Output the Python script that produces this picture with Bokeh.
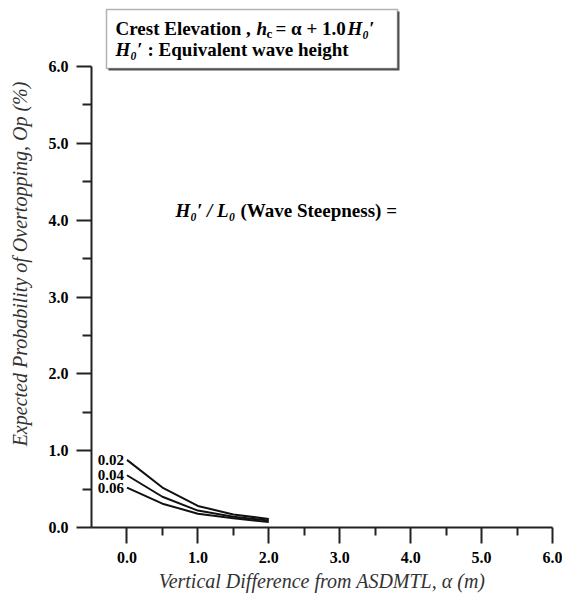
from bokeh.plotting import figure
from bokeh.models import Range1d, FixedTicker, PrintfTickFormatter, Label, BoxAnnotation
from bokeh.embed import file_html
from bokeh.resources import INLINE

# ---- data ----
alpha = [0.0, 0.5, 1.0, 1.5, 2.0]
op_002 = [0.88, 0.52, 0.28, 0.17, 0.11]
op_004 = [0.68, 0.40, 0.22, 0.14, 0.09]
op_006 = [0.52, 0.31, 0.18, 0.12, 0.07]
steepness_labels = ["0.02", "0.04", "0.06"]
x_ticks = [0, 1, 2, 3, 4, 5, 6]
y_ticks = [0, 1, 2, 3, 4, 5, 6]

W, H = 562, 597
FL, FR, FT, FB = 91, 552, 0, 527
X0, X1 = -0.5, 6.0
UNIT_Y = (FB - 66) / 6.0
Y1 = (FB - FT) / UNIT_Y

def px2x(px):
    return X0 + (px - FL) * (X1 - X0) / (FR - FL)

def px2y(py):
    return (FB - py) / UNIT_Y

SERIF = "Liberation Serif"
INK = "#222222"

p = figure(width=W, height=H, output_backend="svg", toolbar_location=None,
           x_range=Range1d(X0, X1), y_range=Range1d(0, Y1),
           min_border_left=FL, min_border_right=W - FR,
           min_border_top=FT, min_border_bottom=H - FB)
p.outline_line_color = None
p.xgrid.visible = False
p.ygrid.visible = False
p.background_fill_color = "white"
p.border_fill_color = "white"

# axes
for ax in (p.xaxis[0], p.yaxis[0]):
    ax.axis_line_color = INK
    ax.axis_line_width = 2
    ax.major_tick_line_color = INK
    ax.major_tick_line_width = 2
    ax.minor_tick_line_color = INK
    ax.minor_tick_line_width = 2
    ax.major_tick_in = 0
    ax.minor_tick_in = 0
    ax.major_label_text_font = SERIF
    ax.major_label_text_font_style = "bold"
    ax.major_label_text_font_size = "16px"
    ax.major_label_text_color = "black"
    ax.axis_label_text_font = SERIF
    ax.axis_label_text_font_style = "italic"
    ax.axis_label_text_color = "#333333"
    ax.formatter = PrintfTickFormatter(format="%.1f")

p.xaxis[0].ticker = FixedTicker(ticks=x_ticks, minor_ticks=[0.5, 1.5, 2.5, 3.5, 4.5, 5.5])
p.yaxis[0].ticker = FixedTicker(ticks=y_ticks, minor_ticks=[0.5, 1.5, 2.5, 3.5, 4.5, 5.5])
p.yaxis[0].bounds = (0, 6)
p.xaxis[0].bounds = (X0, X1)

p.xaxis[0].major_tick_out = 16
p.xaxis[0].minor_tick_out = 8
p.xaxis[0].major_label_standoff = 8
p.xaxis[0].axis_label = "Vertical Difference from ASDMTL, \u03b1 (m)"
p.xaxis[0].axis_label_text_font_size = "20px"
p.xaxis[0].axis_label_standoff = 4

p.yaxis[0].major_tick_out = 15
p.yaxis[0].minor_tick_out = 9
p.yaxis[0].major_label_standoff = 8
p.yaxis[0].axis_label = "Expected Probability of Overtopping, Op (%)"
p.yaxis[0].axis_label_text_font_size = "20px"
p.yaxis[0].axis_label_standoff = 15

# curves
series = [op_002, op_004, op_006]
for vals in series:
    p.line(alpha, vals, line_color="#111111", line_width=2)

# curve labels
for lab, vals in zip(steepness_labels, series):
    p.add_layout(Label(x=alpha[0], y=vals[0], x_offset=-3, text=lab,
                       text_font=SERIF, text_font_style="bold", text_font_size="15px",
                       text_align="right", text_baseline="middle", text_color="black"))

# header box (with a thin drop shadow)
p.add_layout(BoxAnnotation(left=px2x(108), right=px2x(399), top=px2y(11), bottom=px2y(70),
                           fill_color="#555555", fill_alpha=1, line_color=None))
p.add_layout(BoxAnnotation(left=px2x(106), right=px2x(397), top=px2y(9), bottom=px2y(68),
                           fill_color="white", fill_alpha=1, line_color="black", line_width=1.5))

def txt(x, y, s, style="bold", size="19px"):
    p.add_layout(Label(x=px2x(x), y=px2y(y), text=s, text_font=SERIF,
                       text_font_style=style, text_font_size=size,
                       text_align="left", text_baseline="middle", text_color="black"))

# line 1
txt(115, 28, "Crest Elevation ,")
txt(256, 28, "h", "bold italic")
txt(266, 33, "c", "bold", "13px")
txt(275, 28, "= \u03b1 + 1.0")
txt(347, 28, "H\u2080\u2032", "bold italic")
# line 2
txt(115, 49, "H\u2080\u2032", "bold italic")
txt(147, 49, ": Equivalent wave height")
# middle annotation
txt(175, 210, "H\u2080\u2032 / L\u2080", "bold italic")
txt(240, 210, "(Wave Steepness) =")

open("out.html", "w").write(file_html(p, INLINE))
